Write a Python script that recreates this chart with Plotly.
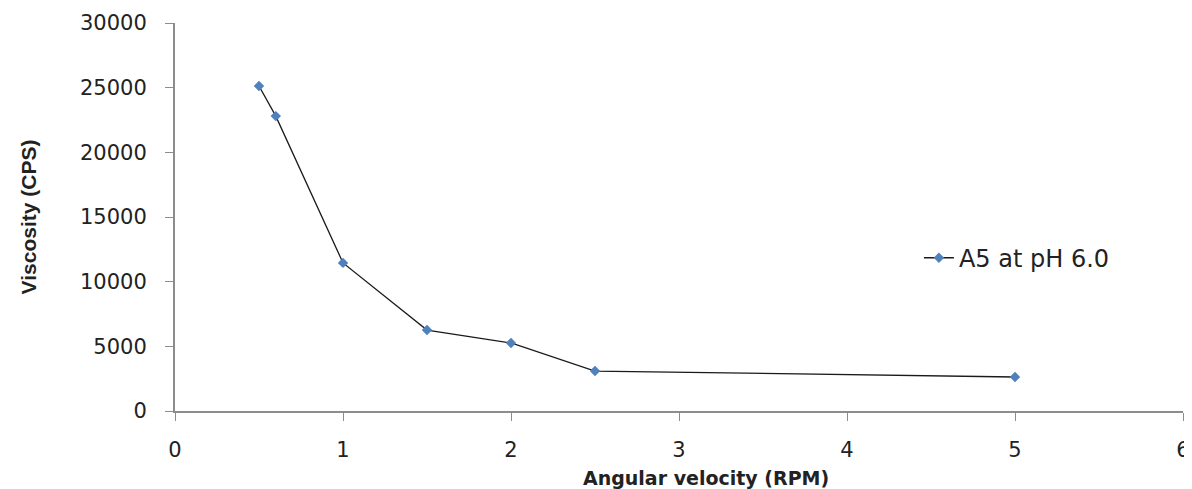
import plotly.graph_objects as go

rpm = [0.5, 0.6, 1.0, 1.5, 2.0, 2.5, 5.0]
viscosity = [25130, 22800, 11450, 6260, 5260, 3090, 2630]
series_name = "A5 at pH 6.0"
x_ticks = [0, 1, 2, 3, 4, 5, 6]
y_ticks = [0, 5000, 10000, 15000, 20000, 25000, 30000]
y_ticktext = ["0", "5000", "10000", "15000", "20000", "25000", "30000"]
x_title = "Angular velocity (RPM)"
y_title = "Viscosity (CPS)"

fig = go.Figure()
fig.add_trace(go.Scatter(
    x=rpm, y=viscosity, mode="lines+markers", name=series_name,
    line=dict(color="#1a1a1a", width=1.3),
    marker=dict(symbol="diamond", size=8, color="#4f81bd"),
))

# page body has an 8px margin: figure is sized so the page is 1192x489
fig.update_layout(
    width=1184, height=481,
    margin=dict(l=167, r=9, t=15, b=78),
    paper_bgcolor="white", plot_bgcolor="white",
    font=dict(family="DejaVu Sans", size=21, color="#222"),
    showlegend=True,
    legend=dict(x=0.738, y=0.394, xanchor="left", yanchor="middle",
                font=dict(size=24), bgcolor="rgba(0,0,0,0)"),
    xaxis=dict(range=[0, 6], tickvals=x_ticks, automargin=False,
               showgrid=False, zeroline=False, showline=True,
               linecolor="#8c8c8c", linewidth=2, ticks="outside",
               ticklen=8, tickcolor="#8c8c8c", tickwidth=1,
               ticklabelstandoff=11),
    yaxis=dict(range=[0, 30000], tickvals=y_ticks, ticktext=y_ticktext,
               automargin=False,
               showgrid=False, zeroline=False, showline=True,
               linecolor="#8c8c8c", linewidth=2, ticks="outside",
               ticklen=8, tickcolor="#8c8c8c", tickwidth=1,
               ticklabelstandoff=14,
               title=dict(text="<b>" + y_title + "</b>",
                          font=dict(family="Liberation Sans", size=21),
                          standoff=38)),
    annotations=[dict(text="<b>" + x_title + "</b>", xref="paper", yref="paper",
                      x=0.527, y=-0.172, xanchor="center", yanchor="middle",
                      showarrow=False, font=dict(family="DejaVu Sans", size=19))],
)

fig.write_html("out.html")
